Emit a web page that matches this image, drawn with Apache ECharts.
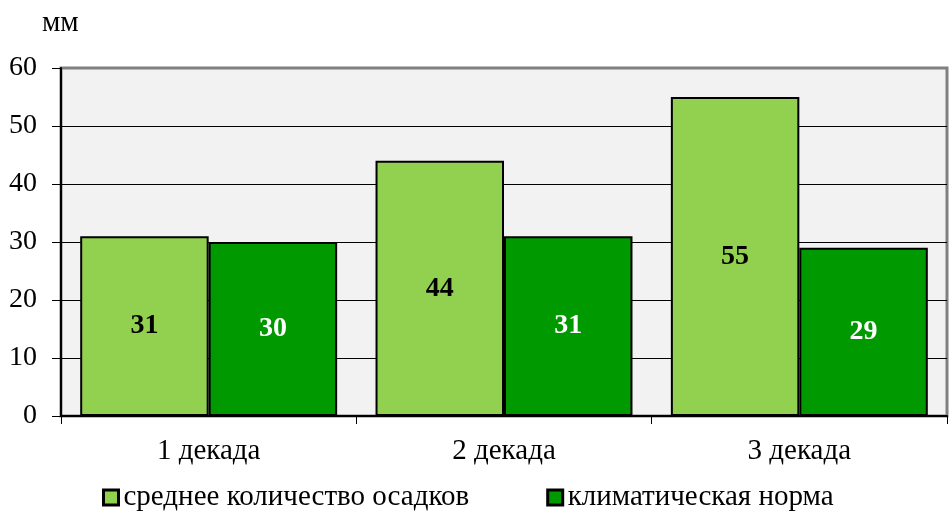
<!DOCTYPE html>
<html><head><meta charset="utf-8">
<script src="https://cdn.jsdelivr.net/npm/echarts@6/dist/echarts.min.js"></script>
<style>html,body{margin:0;padding:0;background:#fff}#c{width:950px;height:519px}</style>
</head><body><div id="c"></div>
<script>
const categories = ['1 декада', '2 декада', '3 декада'];
const seriesNames = ['среднее количество осадков', 'климатическая норма'];
const avgPrecip = [31, 44, 55];
const climateNorm = [30, 31, 29];
const yTicks = [0, 10, 20, 30, 40, 50, 60];

const font = '"Liberation Serif", "Times New Roman", serif';
const legendText = { fontFamily: font, fontSize: 29, color: '#000' };
const chart = echarts.init(document.getElementById('c'));
chart.setOption({
  animation: false,
  backgroundColor: '#ffffff',
  textStyle: { fontFamily: font },
  title: { text: 'мм', left: 37, top: 4, textStyle: { fontFamily: font, fontSize: 29, fontWeight: 'normal', color: '#000' } },
  grid: { left: 61, right: 3, top: 68, bottom: 103, show: true, backgroundColor: '#f2f2f2', borderColor: '#808080', borderWidth: 3 },
  legend: {
    bottom: 2, left: 97, itemWidth: 15, itemHeight: 15, itemGap: 77, icon: 'rect',
    textStyle: legendText,
    data: seriesNames.map(n => ({ name: n, textStyle: legendText, itemStyle: { borderColor: '#000', borderWidth: 3 } }))
  },
  xAxis: {
    type: 'category', data: categories,
    axisLine: { lineStyle: { color: '#000', width: 2 } },
    axisTick: { show: true, length: 8, lineStyle: { color: '#000' } },
    axisLabel: { fontFamily: font, fontSize: 29, color: '#000', margin: 21 }
  },
  yAxis: {
    type: 'value', min: yTicks[0], max: yTicks[yTicks.length - 1], interval: 10,
    axisLine: { show: true, lineStyle: { color: '#000', width: 2 } },
    axisTick: { show: true, length: 9, lineStyle: { color: '#000' } },
    axisLabel: { fontFamily: font, fontSize: 28, color: '#000', margin: 24 },
    splitLine: { lineStyle: { color: yTicks.map((t, i) => i === yTicks.length - 1 ? '#808080' : '#000'), width: 1 } }
  },
  series: [
    { name: seriesNames[0], type: 'bar', data: avgPrecip, barGap: '0%', barCategoryGap: '13%',
      itemStyle: { color: '#92d050', borderColor: '#000', borderWidth: 2 },
      label: { show: true, position: 'inside', fontFamily: font, fontSize: 28, fontWeight: 'bold', color: '#000' } },
    { name: seriesNames[1], type: 'bar', data: climateNorm,
      itemStyle: { color: '#009900', borderColor: '#000', borderWidth: 2 },
      label: { show: true, position: 'inside', fontFamily: font, fontSize: 28, fontWeight: 'bold', color: '#fff' } }
  ]
});
</script></body></html>
